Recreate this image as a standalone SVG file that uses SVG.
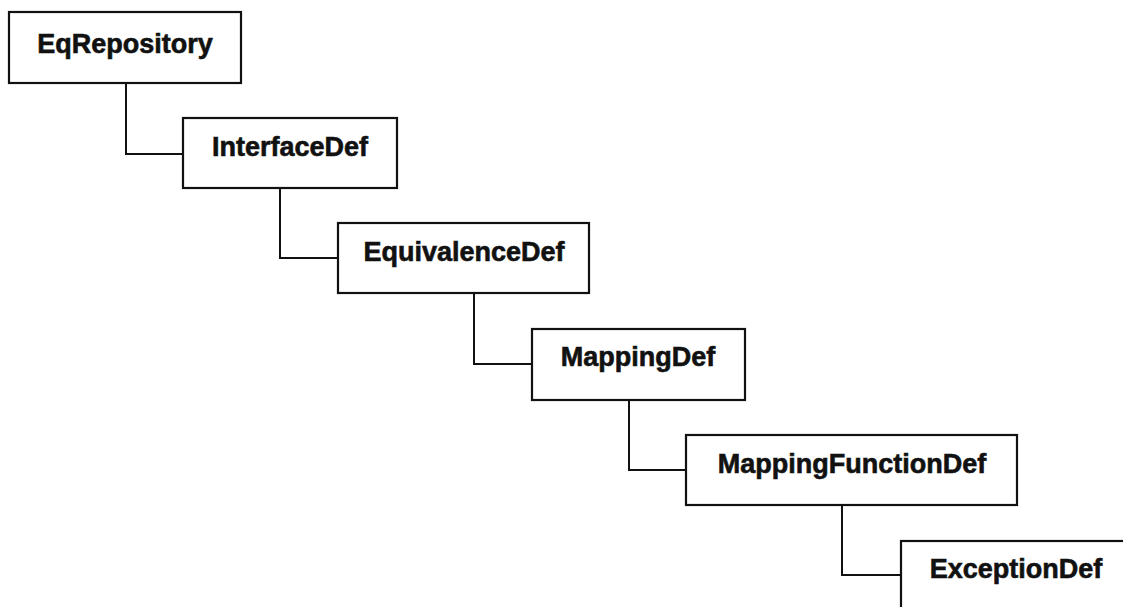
<svg xmlns="http://www.w3.org/2000/svg" width="1123" height="607" viewBox="0 0 1123 607">
<style>
.box{fill:#fff;stroke:#111;stroke-width:2.2}
.lbl{font-family:"Liberation Sans",Arial,sans-serif;font-weight:bold;font-size:27px;fill:#111;stroke:#111;stroke-width:0.6;text-anchor:middle}
.conn{fill:none;stroke:#111;stroke-width:2}
</style>
<rect width="1123" height="607" fill="#fff"/>
<g id="connectors">
<polyline class="conn" points="126,83 126,154 183,154"/>
<polyline class="conn" points="280,188 280,258 338,258"/>
<polyline class="conn" points="474,293 474,364 532,364"/>
<polyline class="conn" points="629,400 629,470 686,470"/>
<polyline class="conn" points="842,505 842,575 901,575"/>
</g>
<g id="EqRepository">
<rect class="box" x="9" y="12" width="232" height="71"/>
<text class="lbl" x="125" y="53">EqRepository</text>
</g>
<g id="InterfaceDef">
<rect class="box" x="183" y="118" width="214" height="70"/>
<text class="lbl" x="290" y="156">InterfaceDef</text>
</g>
<g id="EquivalenceDef">
<rect class="box" x="338" y="223" width="251" height="70"/>
<text class="lbl" x="464" y="261">EquivalenceDef</text>
</g>
<g id="MappingDef">
<rect class="box" x="532" y="329" width="213" height="71"/>
<text class="lbl" x="638" y="366">MappingDef</text>
</g>
<g id="MappingFunctionDef">
<rect class="box" x="686" y="435" width="331" height="70"/>
<text class="lbl" x="852" y="473">MappingFunctionDef</text>
</g>
<g id="ExceptionDef">
<rect class="box" x="901" y="541" width="232" height="72"/>
<text class="lbl" x="1016" y="578">ExceptionDef</text>
</g>
</svg>
